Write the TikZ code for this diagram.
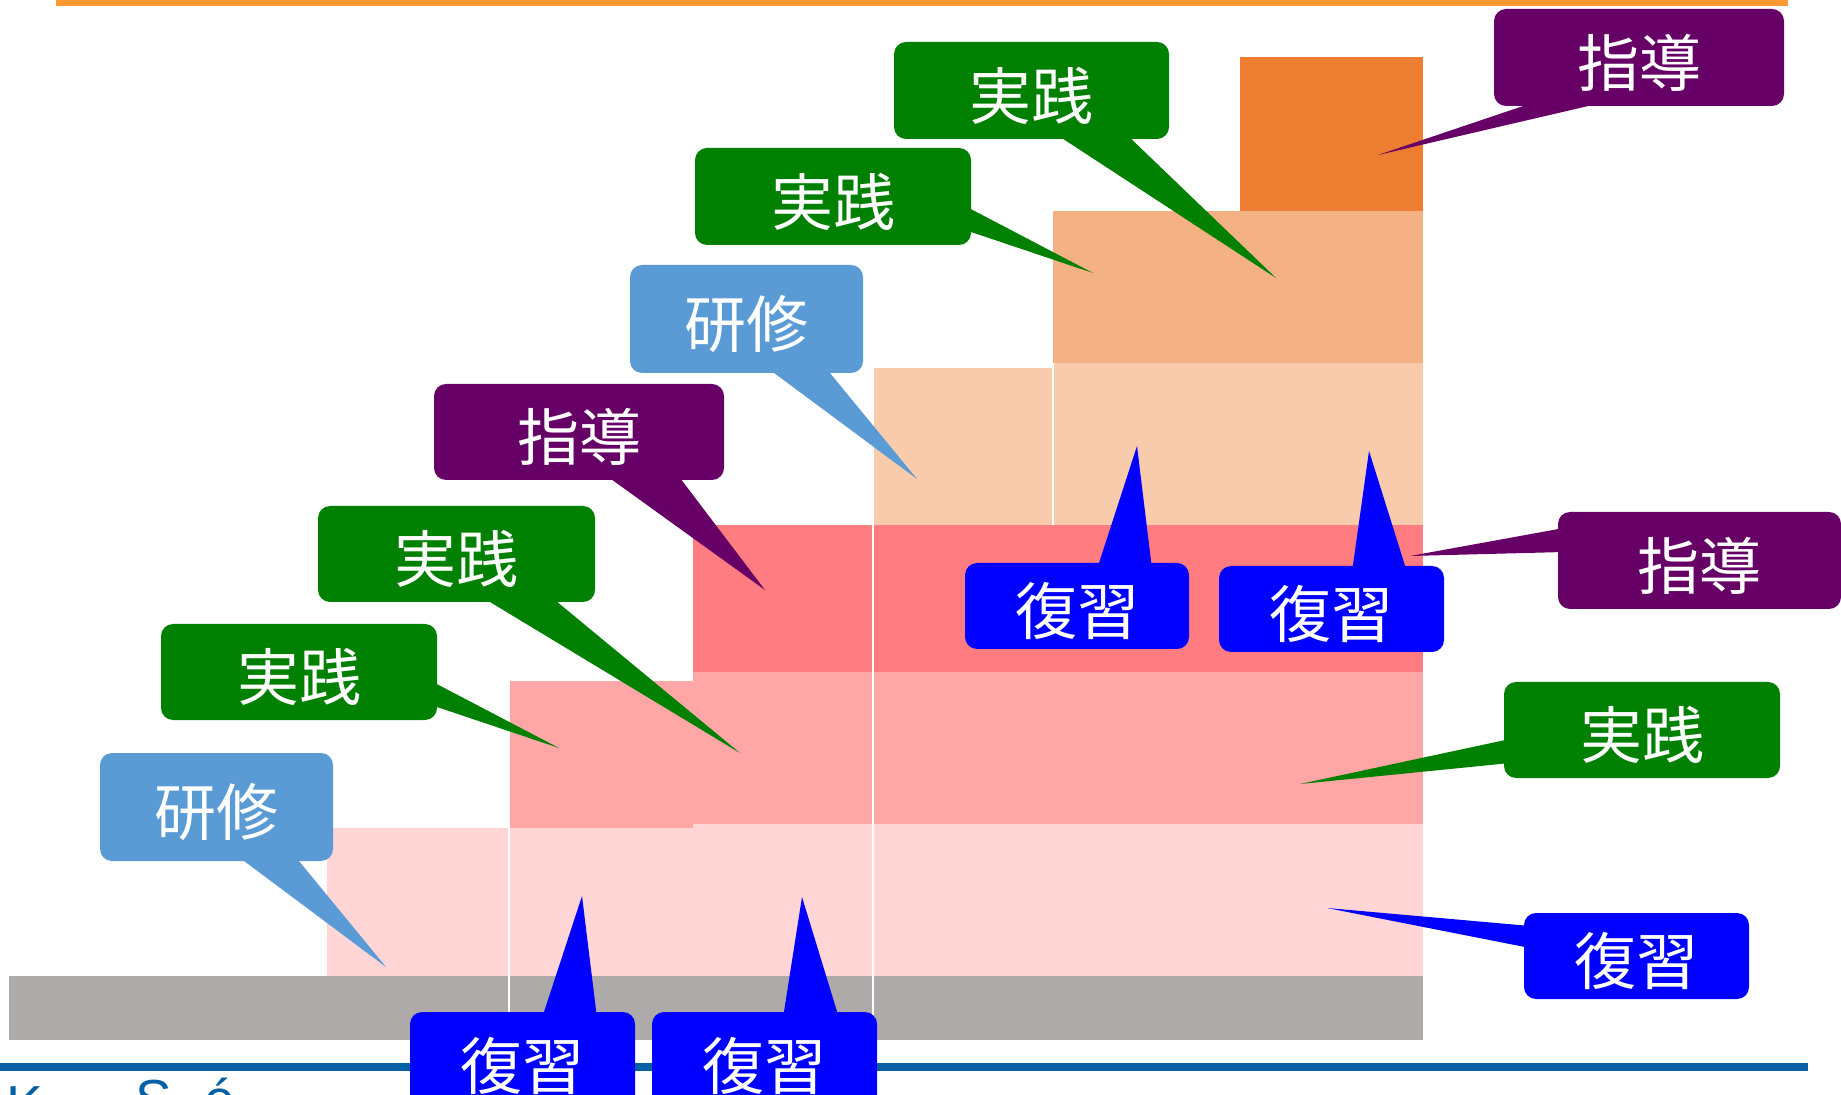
\documentclass[tikz,border=0pt]{standalone}
\usepackage{fontspec}
\newfontfamily\cjk{Noto Sans CJK JP}
\newfontfamily\latsans{Liberation Sans}
\definecolor{topline}{HTML}{FF9933}
\definecolor{botline}{HTML}{0560A6}
\definecolor{bargray}{HTML}{AEAAAA}
\definecolor{lpink}{HTML}{FFD5D5}
\definecolor{mpink}{HTML}{FFA7A7}
\definecolor{rpink}{HTML}{FF7C80}
\definecolor{peach}{HTML}{F8CBAD}
\definecolor{lorange}{HTML}{F4B183}
\definecolor{dorange}{HTML}{ED7D31}
\definecolor{cgreen}{HTML}{008000}
\definecolor{cpurple}{HTML}{660066}
\definecolor{clblue}{HTML}{5B9BD5}
\definecolor{cblue}{HTML}{0000FF}
% #1 name, #2 colour, #3 left, #4 top, #5 right, #6 bottom, #7 text
\newcommand\mycallout[7]{%
  \node[cbox, fill=#2, minimum width={(#5-#3)*0.5pt}, minimum height={(#6-#4)*0.5pt}]
    (#1) at ({(#3+#5)/2},{(#4+#6)/2}) {};
  \node[ctext] (#1t) at ([yshift=-2.5pt]#1.center) {#7};}
\begin{document}
\begin{tikzpicture}[x=0.5pt,y=-0.5pt,
  cbox/.style={rectangle, rounded corners=6pt, inner sep=0pt, outer sep=0pt, draw=none},
  ctext/.style={text=white, inner sep=0pt, font=\cjk\fontsize{31}{31}\selectfont},
  sepline/.style={white, line width=0.6pt},
  logo/.style={text=botline, inner sep=0pt, anchor=base west, font=\latsans\fontsize{27.5}{27.5}\selectfont}]
\useasboundingbox (0,0) rectangle (1841,1095);
\clip (0,0) rectangle (1841,1095);

% frame lines
\fill[topline] (56,0) rectangle (1788,6);
\fill[botline] (0,1063) rectangle (1808,1071);

% staircase
\fill[bargray] (9,976) rectangle (1423,1040);
\fill[lpink] (327,828) rectangle (693,976);
\fill[lpink] (693,824) rectangle (1423,976);
\fill[mpink] (509,681) rectangle (693,828);
\fill[mpink] (693,672) rectangle (1423,824);
\fill[rpink] (693,525) rectangle (1423,672);
\fill[peach] (873,368) rectangle (1053,525);
\fill[peach] (1053,363) rectangle (1423,525);
\fill[lorange] (1053,211) rectangle (1423,363);
\fill[dorange] (1240,57) rectangle (1423,211);
\draw[sepline] (509,681) -- (509,1040);
\draw[sepline] (873,368) -- (873,1040);
\draw[sepline] (1053,363) -- (1053,525);

% cut-off logo text at the bottom
\node[logo] (lk) at (6,1124) {K};
\node[logo] (ls) at (135,1118) {S};
\node[logo] (le) at (204,1118) {é};

% pointer tips
\coordinate (p1tip) at (1378,155);
\coordinate (g1tip) at (1276,278);
\coordinate (g2tip) at (1093,273);
\coordinate (b1tip) at (917,479);
\coordinate (p2tip) at (765,590);
\coordinate (g3tip) at (740,753);
\coordinate (g4tip) at (559,748);
\coordinate (b2tip) at (386,967);
\coordinate (r1tip) at (582,896);
\coordinate (r2tip) at (802,897);
\coordinate (r3tip) at (1137,446);
\coordinate (r4tip) at (1369,451);
\coordinate (p3tip) at (1410,556);
\coordinate (g5tip) at (1300,784);
\coordinate (r5tip) at (1327,908);

% wedges
\fill[cpurple] (1541,100) -- (p1tip) -- (1614,100) -- cycle;
\fill[cgreen] (1054,133) -- (g1tip) -- (1125,133) -- cycle;
\fill[cgreen] (965,206) -- (g2tip) -- (965,230) -- cycle;
\fill[clblue] (766,367) -- (b1tip) -- (825,367) -- cycle;
\fill[cpurple] (604,474) -- (p2tip) -- (677,474) -- cycle;
\fill[cgreen] (480,596) -- (g3tip) -- (550,596) -- cycle;
\fill[cgreen] (431,681) -- (g4tip) -- (431,705) -- cycle;
\fill[clblue] (236,855) -- (b2tip) -- (294,855) -- cycle;
\fill[cblue] (542,1018) -- (r1tip) -- (597,1018) -- cycle;
\fill[cblue] (783,1018) -- (r2tip) -- (839,1018) -- cycle;
\fill[cblue] (1097,569) -- (r3tip) -- (1152,569) -- cycle;
\fill[cblue] (1352,572) -- (r4tip) -- (1407,572) -- cycle;
\fill[cpurple] (1564,528) -- (p3tip) -- (1564,552) -- cycle;
\fill[cgreen] (1510,739) -- (g5tip) -- (1510,763) -- cycle;
\fill[cblue] (1530,926) -- (r5tip) -- (1530,948) -- cycle;

% boxes
\mycallout{p1}{cpurple}{1494}{9}{1784}{106}{指導}
\mycallout{g1}{cgreen}{894}{42}{1169}{139}{実践}
\mycallout{g2}{cgreen}{695}{148}{971}{245}{実践}
\mycallout{b1}{clblue}{630}{265}{863}{373}{研修}
\mycallout{p2}{cpurple}{434}{384}{724}{480}{指導}
\mycallout{g3}{cgreen}{318}{506}{595}{602}{実践}
\mycallout{g4}{cgreen}{161}{624}{437}{720}{実践}
\mycallout{b2}{clblue}{100}{753}{333}{861}{研修}
\mycallout{r1}{cblue}{410}{1012}{635}{1110}{復習}
\mycallout{r2}{cblue}{652}{1012}{877}{1110}{復習}
\mycallout{r3}{cblue}{965}{563}{1189}{649}{復習}
\mycallout{r4}{cblue}{1219}{566}{1444}{652}{復習}
\mycallout{p3}{cpurple}{1558}{512}{1841}{609}{指導}
\mycallout{g5}{cgreen}{1504}{682}{1780}{778}{実践}
\mycallout{r5}{cblue}{1524}{913}{1749}{999}{復習}
\end{tikzpicture}
\end{document}
